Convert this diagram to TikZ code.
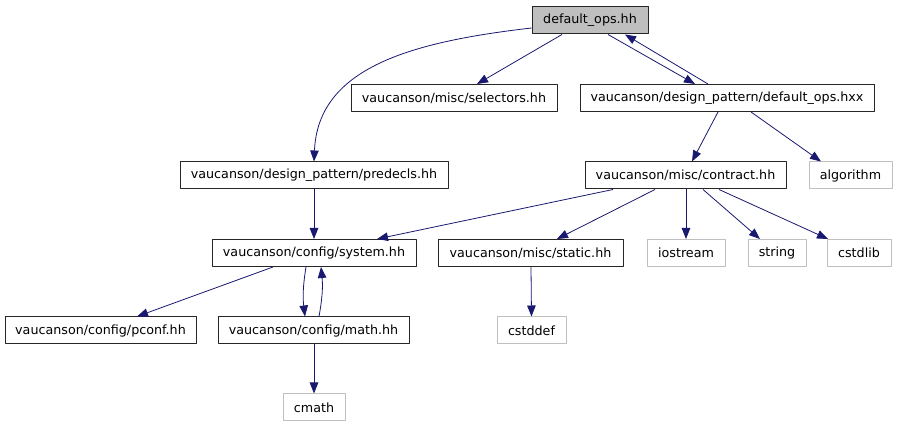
\documentclass[tikz,border=0pt]{standalone}
\usepackage{fontspec}
\setmainfont{DejaVu Sans}
\usetikzlibrary{arrows.meta}
\definecolor{edgeblue}{HTML}{191970}
\definecolor{hdrgray}{HTML}{BFBFBF}
\definecolor{sysgray}{HTML}{C0C0C0}
\tikzset{
  file/.style={draw=black!85, line width=1pt, minimum height=27pt, inner sep=0pt},
  sysfile/.style={draw=sysgray, line width=1pt, minimum height=27pt, inner sep=0pt},
  edge/.style={->, edgeblue, line width=0.8pt}
}
\begin{document}
\begin{tikzpicture}[x=1pt,y=-1pt, font=\fontsize{12.7}{14}\selectfont, line join=round, >={Triangle[length=11pt,width=8.5pt]}]
  \def \rowA{20.5};
  \def \rowB{98};
  \def \rowC{175.5};
  \def \rowD{253};
  \def \rowE{330.5};
  \def \rowF{407.5};
  \useasboundingbox (0,0) rectangle (897,427);
  % files
  \node[file, fill=hdrgray, minimum width=116pt] (dops) at (590,\rowA) {default\_ops.hh};
  \node[file, minimum width=206pt] (sel) at (454,\rowB) {vaucanson/misc/selectors.hh};
  \node[file, minimum width=294pt] (hxx) at (727,\rowB) {vaucanson/design\_pattern/default\_ops.hxx};
  \node[file, minimum width=268pt] (predecls) at (314,\rowC) {vaucanson/design\_pattern/predecls.hh};
  \node[file, minimum width=201pt] (contract) at (685.5,\rowC) {vaucanson/misc/contract.hh};
  \node[sysfile, minimum width=83pt] (algorithm) at (850.5,\rowC) {algorithm};
  \node[file, minimum width=204pt] (system) at (314,\rowD) {vaucanson/config/system.hh};
  \node[file, minimum width=185pt] (static) at (530.5,\rowD) {vaucanson/misc/static.hh};
  \node[sysfile, minimum width=78pt] (iostream) at (686,\rowD) {iostream};
  \node[sysfile, minimum width=58pt] (string) at (777,\rowD) {string};
  \node[sysfile, minimum width=64pt] (cstdlib) at (859,\rowD) {cstdlib};
  \node[file, minimum width=191pt] (pconf) at (100.5,\rowE) {vaucanson/config/pconf.hh};
  \node[file, minimum width=191pt] (math) at (313.5,\rowE) {vaucanson/config/math.hh};
  \node[sysfile, minimum width=69pt] (cstddef) at (531.5,\rowE) {cstddef};
  \node[sysfile, minimum width=62pt] (cmath) at (314,\rowF) {cmath};
  % includes
  \draw[edge] ([yshift=-7.5pt]dops.west) .. controls (410,42) and (318,68) .. (predecls.north);
  \foreach \a/\sa/\b/\sb in {dops/-28/sel/23, dops/18/hxx/-32, hxx/-9/contract/6.5, hxx/24/algorithm/-29.5,
      predecls/0/system/0, contract/-72.5/system/63, contract/-30.5/static/26.5, contract/0.5/iostream/0,
      contract/17.5/string/-17, contract/33.5/cstdlib/-31, system/-41/pconf/36.5,
      math/0.5/cmath/0, static/0.5/cstddef/0}
    {\draw[edge] ([xshift=\sa pt]\a.south) -- ([xshift=\sb pt]\b.north);}
  \draw[edge] ([xshift=-19pt]hxx.north) -- ([xshift=35pt]dops.south);
  \draw[edge] ([xshift=-8pt]system.south) to[bend right=8] ([xshift=-8.5pt]math.north);
  \draw[edge] ([xshift=5.5pt]math.north) to[bend right=8] ([xshift=7pt]system.south);
\end{tikzpicture}
\end{document}
